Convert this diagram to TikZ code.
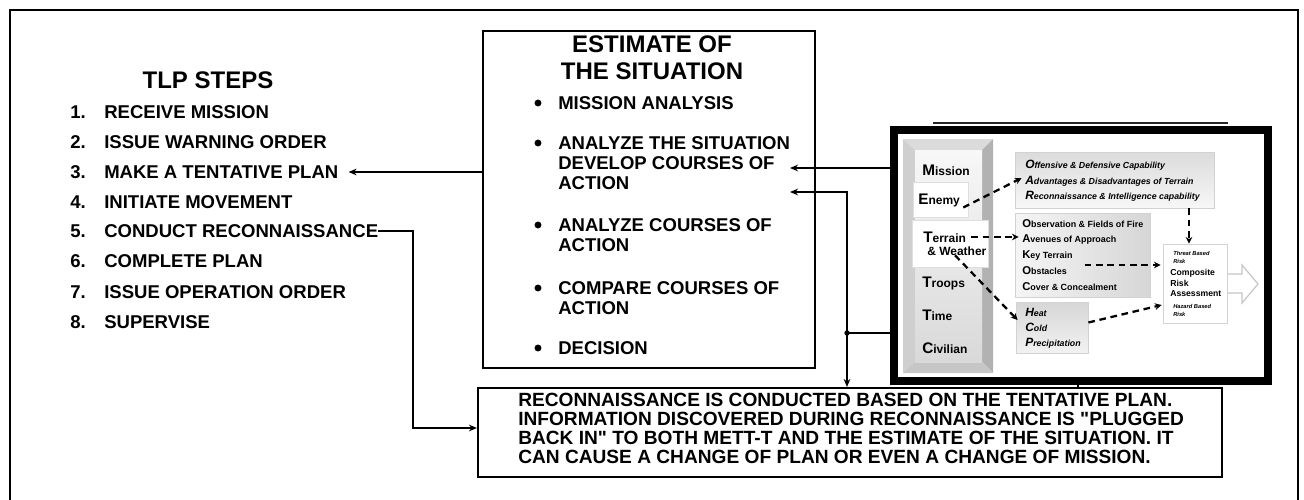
\documentclass[tikz,border=0pt]{standalone}
\usepackage{fontspec}
\setmainfont{Liberation Sans}
\usetikzlibrary{arrows.meta,calc,fit}
% first letter set larger than the rest of the word
\newcommand\ini[3]{{\fontsize{#1}{#1}\selectfont #2}#3}
\begin{document}
\begin{tikzpicture}[x=0.75pt,y=-0.75pt,
  every node/.style={inner sep=0pt},
  lst/.style={anchor=west,font=\fontsize{13.9}{15}\selectfont\bfseries},
  estitem/.style={anchor=west,align=left,font=\fontsize{13.9}{15}\selectfont\bfseries},
  box/.style={draw,line width=1.6pt},
  link/.style={line width=1.6pt},
  arr/.style={link,-{Stealth[length=6pt,width=5pt]}},
  dsh/.style={line width=1.7pt,dash pattern=on 5pt off 3.5pt,-{Stealth[length=5pt,width=5pt]}},
  colbl/.style={anchor=west,font=\fontsize{9}{10}\selectfont\bfseries},
  oar/.style={anchor=west,font=\fontsize{6.6}{7}\selectfont\bfseries\itshape},
  oak/.style={anchor=west,font=\fontsize{6.7}{7}\selectfont\bfseries},
  crl/.style={anchor=west,font=\fontsize{6.5}{7}\selectfont\bfseries},
  crs/.style={anchor=west,font=\fontsize{4.3}{5}\selectfont\bfseries\itshape},
  panel/.style={draw=gray!35,line width=0.6pt}]
\useasboundingbox (0,0) rectangle (1304,500);

% outer frame (open at the bottom)
\draw[line width=2.2pt] (10,500) -- (10,10) -- (1298,10) -- (1298,500);

% ---- TLP steps ----
\node[font=\fontsize{18}{20}\selectfont\bfseries] (tlp) at (208,80) {TLP STEPS};
\node[lst] (n1) at (70,112) {1.};  \node[lst] (s1) at (104,112) {RECEIVE MISSION};
\node[lst] (n2) at (70,142) {2.};  \node[lst] (s2) at (104,142) {ISSUE WARNING ORDER};
\node[lst] (n3) at (70,172) {3.};  \node[lst] (s3) at (104,172) {MAKE A TENTATIVE PLAN};
\node[lst] (n4) at (70,202) {4.};  \node[lst] (s4) at (104,202) {INITIATE MOVEMENT};
\node[lst] (n5) at (70,231) {5.};  \node[lst] (s5) at (104,231) {CONDUCT RECONNAISSANCE};
\node[lst] (n6) at (70,261) {6.};  \node[lst] (s6) at (104,261) {COMPLETE PLAN};
\node[lst] (n7) at (70,292) {7.};  \node[lst] (s7) at (104,292) {ISSUE OPERATION ORDER};
\node[lst] (n8) at (70,322) {8.};  \node[lst] (s8) at (104,322) {SUPERVISE};

% ---- estimate of the situation ----
\node[box,fit={(483,31) (815,368)}] (est) {};
\node[align=center,font=\fontsize{18}{20}\selectfont\bfseries] (estt) at (652,58) {ESTIMATE OF\\THE SITUATION};
\node[estitem] (e1) at (558,103) {MISSION ANALYSIS};
\node[estitem] (e2) at (558,163) {ANALYZE THE SITUATION\\DEVELOP COURSES OF\\ACTION};
\node[estitem] (e3) at (558,235.5) {ANALYZE COURSES OF\\ACTION};
\node[estitem] (e4) at (558,298) {COMPARE COURSES OF\\ACTION};
\node[estitem] (e5) at (558,348) {DECISION};
\foreach \yy in {103,143,225,288,348} \fill (538,\yy) circle (2.6pt);

% ---- bottom note ----
\node[box,fit={(478,388) (1222,477)}] (rec) {};
\node[anchor=west,align=left,font=\fontsize{14.35}{14.25}\selectfont\bfseries] (rect) at (518,428.5)
  {RECONNAISSANCE IS CONDUCTED BASED ON THE TENTATIVE PLAN.\\
   INFORMATION DISCOVERED DURING RECONNAISSANCE IS \textquotedbl PLUGGED\\
   BACK IN\textquotedbl{} TO BOTH METT-T AND THE ESTIMATE OF THE SITUATION. IT\\
   CAN CAUSE A CHANGE OF PLAN OR EVEN A CHANGE OF MISSION.};

% ---- METT-T panel ----
\draw[line width=1.1pt,black!85] (933,123) -- (1228,123);
\node[draw,fill=white,line width=6pt,fit={(894,130) (1268,381)}] (mett) {};

% bevelled column
\fill[gray!28] (903,139) -- (993,139) -- (982,150) -- (915,150) -- cycle;
\fill[gray!38] (903,139) -- (915,150) -- (915,362) -- (903,373) -- cycle;
\fill[gray!60] (993,139) -- (993,373) -- (982,362) -- (982,150) -- cycle;
\fill[gray!45] (903,373) -- (993,373) -- (982,362) -- (915,362) -- cycle;
\shade[top color=gray!6,bottom color=gray!30] (915,150) rectangle (982,362);
\node[fill=white,draw=gray!25,fit={(913,182) (968,217)}] (enemy) {};
\node[fill=white,draw=gray!25,fit={(912,220) (988,267)}] (terr) {};
\node[colbl] (lm) at (922,170) {\ini{11.5}{M}{ission}};
\node[colbl] (le) at (918,200) {\ini{11.5}{E}{nemy}};
\node[colbl] (lt) at (923,237) {\ini{11.5}{T}{errain}};
\node[colbl] (lw) at (927,251) {\& Weather};
\node[colbl] (lr) at (922,283) {\ini{11.5}{T}{roops}};
\node[colbl] (lti) at (922,315) {\ini{11.5}{T}{ime}};
\node[colbl] (lc) at (922,348) {\ini{11.5}{C}{ivilian}};

% factor boxes
\node[panel,top color=gray!28,bottom color=gray!6,fit={(1015,152) (1214,208)}] (oarb) {};
\node[oar] (o1) at (1025,165) {\ini{9}{O}{ffensive \& Defensive Capability}};
\node[oar] (o2) at (1025,181) {\ini{9}{A}{dvantages \& Disadvantages of Terrain}};
\node[oar] (o3) at (1025,196) {\ini{9}{R}{econnaissance \& Intelligence capability}};

\node[panel,left color=gray!8,right color=gray!32,fit={(1015,213) (1150,297)}] (oak) {};
\node[oak] (k1) at (1022,224) {\ini{8.5}{O}{bservation \& Fields of Fire}};
\node[oak] (k2) at (1022,240) {\ini{8.5}{A}{venues of Approach}};
\node[oak] (k3) at (1022,256) {\ini{8.5}{K}{ey Terrain}};
\node[oak] (k4) at (1022,271) {\ini{8.5}{O}{bstacles}};
\node[oak] (k5) at (1022,287) {\ini{8.5}{C}{over \& Concealment}};

\node[panel,top color=gray!32,bottom color=gray!10,fit={(1016,302) (1088,353)}] (heat) {};
\node[oar] (h1) at (1025,312) {\ini{9}{H}{eat}};
\node[oar] (h2) at (1025,327) {\ini{9}{C}{old}};
\node[oar] (h3) at (1025,343) {\ini{9}{P}{recipitation}};

% composite risk box and its outgoing hollow arrow
\draw[gray!45,fill=white,line width=0.9pt] (1227,274) -- (1242,274) -- (1242,265) -- (1258,284)
  -- (1242,303) -- (1242,293) -- (1227,293);
\node[panel,fill=white,fit={(1163,244) (1227,323)}] (crisk) {};
\node[crs] (c1) at (1173,253) {Threat Based};
\node[crs] (c2) at (1173,261) {Risk};
\node[crl] (c3) at (1170,273) {Composite};
\node[crl] (c4) at (1170,283) {Risk};
\node[crl] (c5) at (1170,294) {Assessment};
\node[crs] (c6) at (1173,306) {Hazard Based};
\node[crs] (c7) at (1173,314) {Risk};

% dashed flows inside the panel
\draw[dsh] ($(enemy.east)+(-5,8)$) -- ($(oarb.west)+(7,-2)$);
\draw[dsh] ($(lt.east)+(5,0)$) -- ($(oak.west |- lt.east)+(4,0)$);
\draw[dsh] ($(terr.south)+(5,-12)$) -- ($(heat.west)+(2,-7.5)$);
\coordinate (ck) at ($(crisk.north)+(-6,0)$);
\draw[dsh] (oarb.south -| ck) -- (ck);
\coordinate (ck2) at ($(crisk.west)+(-2,-18.5)$);
\draw[dsh] (ck2 -| k3.east) ++(12,0) -- (ck2);
\draw[dsh] ($(heat.east)+(0,-5)$) -- ($(crisk.west)+(-1,21.5)$);

% ---- connectors ----
\draw[arr] (est.west |- s3.east) -- ($(s3.east)+(10,0)$);
\coordinate (r5) at (413,428);
\draw[arr] (s5.east) -| (r5) -- (rec.west |- r5);
\coordinate (devin) at (790,168);
\draw[arr] (mett.west |- devin) -- (devin);
\coordinate (jn) at (847,333);
\coordinate (actin) at (790,192);
\draw[arr] (mett.west |- jn) -- (jn) |- (actin);
\draw[arr] (jn) -- (jn |- rec.north);
\fill (jn) circle (2pt);
\coordinate (tk) at (1078,0);
\draw[link] (tk |- mett.south) -- (tk |- rec.north);
\end{tikzpicture}
\end{document}
